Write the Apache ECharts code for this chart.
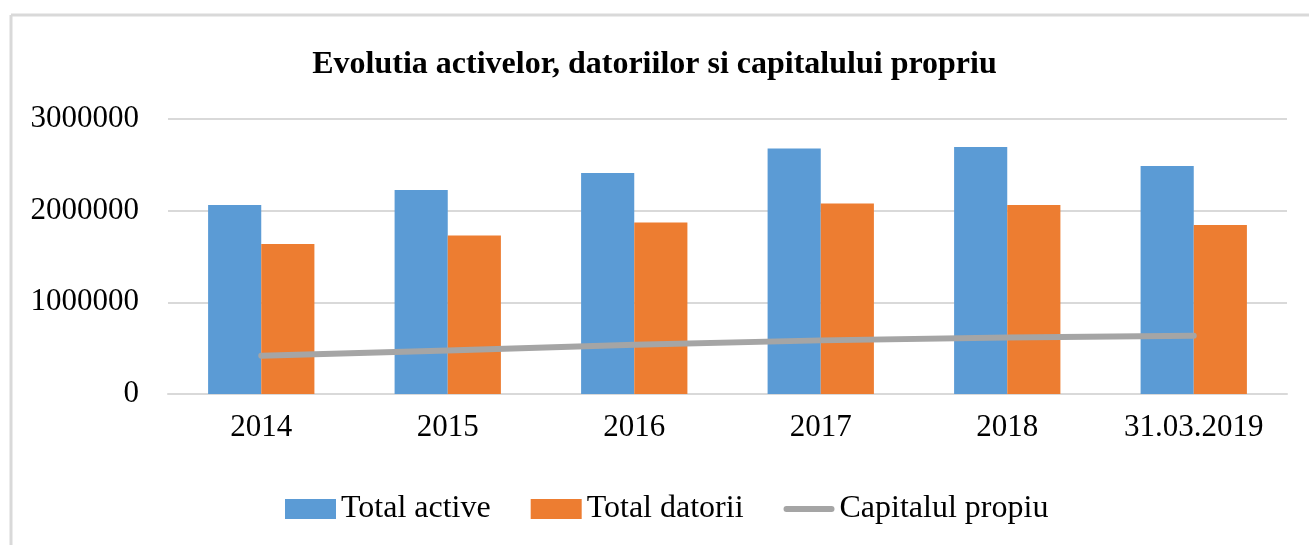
<!DOCTYPE html>
<html>
<head>
<meta charset="utf-8">
<script src="https://cdn.jsdelivr.net/npm/echarts@6/dist/echarts.min.js"></script>
<style>
html,body{margin:0;padding:0;background:#fff;}
#chart{width:1309px;height:545px;}
</style>
</head>
<body>
<div id="chart"></div>
<script>
var titleText = 'Evolutia activelor, datoriilor si capitalului propriu';
var categories = ['2014', '2015', '2016', '2017', '2018', '31.03.2019'];
var totalActive = [2062000, 2225000, 2411000, 2679000, 2694000, 2487000];
var totalDatorii = [1636000, 1730000, 1872000, 2079000, 2062000, 1844000];
var capitalPropriu = [418000, 475000, 538000, 585000, 617000, 636000];
var yTicks = [0, 1000000, 2000000, 3000000];

var font = '"Liberation Serif", "Times New Roman", serif';
var chart = echarts.init(document.getElementById('chart'), null, {renderer: 'canvas'});
chart.setOption({
  backgroundColor: '#ffffff',
  animation: false,
  title: {
    text: titleText,
    left: 'center',
    top: 44,
    textStyle: {fontFamily: font, fontWeight: 'bold', fontSize: 32, color: '#000'}
  },
  legend: {
    left: 280,
    top: 488,
    itemWidth: 51,
    itemHeight: 20,
    itemGap: 40,
    textStyle: {fontFamily: font, fontSize: 32, color: '#000'},
    data: [
      {name: 'Total active', icon: 'rect'},
      {name: 'Total datorii', icon: 'rect'},
      {name: 'Capitalul propiu', icon: 'path://M3,0 L48,0 A3,3 0 0 1 48,6 L3,6 A3,3 0 0 1 3,0 Z'}
    ]
  },
  grid: {left: 168, right: 22, top: 119, bottom: 151, containLabel: false},
  xAxis: {
    type: 'category',
    data: categories,
    axisLine: {show: true, lineStyle: {color: '#d9d9d9', width: 2}},
    axisTick: {show: false},
    axisLabel: {fontFamily: font, fontSize: 31, color: '#000', margin: 18}
  },
  yAxis: {
    type: 'value',
    min: yTicks[0],
    max: yTicks[yTicks.length - 1],
    interval: 1000000,
    axisLine: {show: false},
    axisTick: {show: false},
    splitLine: {lineStyle: {color: '#d9d9d9', width: 2}},
    axisLabel: {fontFamily: font, fontSize: 31, color: '#000', margin: 29,
      formatter: function (v) { return String(v); }}
  },
  series: [
    {
      name: 'Total active', type: 'bar', data: totalActive,
      itemStyle: {color: '#5B9BD5'},
      barGap: '0%', barCategoryGap: '43%'
    },
    {
      name: 'Total datorii', type: 'bar', data: totalDatorii,
      itemStyle: {color: '#ED7D31'},
      barGap: '0%', barCategoryGap: '43%'
    },
    {
      name: 'Capitalul propiu', type: 'line', data: capitalPropriu,
      showSymbol: false, symbol: 'none',
      itemStyle: {color: '#A5A5A5'},
      lineStyle: {color: '#A5A5A5', width: 6, cap: 'round', join: 'round'}
    }
  ],
  graphic: [
    {type: 'line', shape: {x1: 11, y1: 15, x2: 1309, y2: 15}, style: {stroke: '#d9d9d9', lineWidth: 3}, silent: true},
    {type: 'line', shape: {x1: 11, y1: 15, x2: 11, y2: 545}, style: {stroke: '#d9d9d9', lineWidth: 3}, silent: true}
  ]
});
</script>
</body>
</html>
